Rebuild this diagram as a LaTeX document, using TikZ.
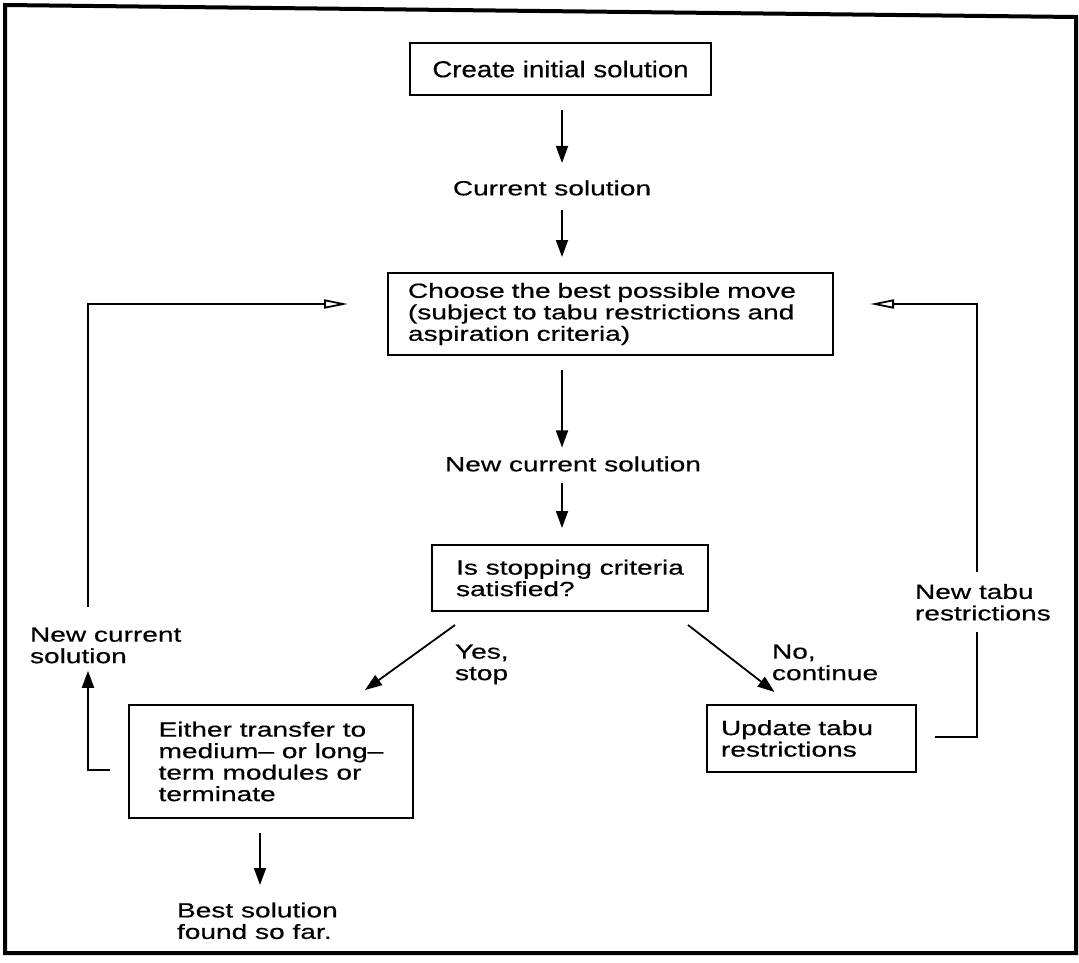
\documentclass[tikz,border=0pt]{standalone}
\usepackage{fontspec}
\usetikzlibrary{arrows.meta,calc}
\newfontfamily\flowfont[FakeStretch=1.37,FakeBold=0.5]{Liberation Sans}
\newfontfamily\headfont[FakeStretch=1.2,FakeBold=0.4]{Liberation Sans}
\begin{document}
\begin{tikzpicture}[x=1pt,y=-1pt,
  every node/.style={inner sep=0pt, outer sep=0pt},
  txt/.style={font=\flowfont\fontsize{20.5}{21.5}\selectfont, align=left},
  stepbox/.style={txt, draw, line width=2.2pt},
  flow/.style={line width=1.8pt, -{Triangle[length=17pt,width=12pt]}},
  loopback/.style={line width=1.8pt, -{Triangle[open,length=24pt,width=9pt]}},
  plain/.style={line width=1.8pt}]
\useasboundingbox (0,0) rectangle (1079,962);

% outer frame
\draw[line width=4pt] (5,5) -- (1076,17) -- (1076,953) -- (5,953) -- cycle;

% process boxes
\node[stepbox, font=\headfont\fontsize{23}{25}\selectfont, align=center,
      minimum width=301pt, minimum height=52pt] (init) at (560.5,69) {Create initial solution};
\node[stepbox, text width=405pt, inner xsep=20pt, minimum height=82pt] (choose) at (610.5,314)
  {Choose the best possible move\\(subject to tabu restrictions and\\aspiration criteria)};
\node[stepbox, minimum width=276pt, minimum height=66pt] (stop) at (570,578)
  {Is stopping criteria\\satisfied?};
\node[stepbox, minimum width=284pt, minimum height=113pt] (either) at (271,761.5)
  {Either transfer to\\medium– or long–\\term modules or\\terminate};
\node[stepbox, text width=181pt, inner xsep=14pt, minimum height=67pt] (update) at (811.5,738.5)
  {Update tabu\\restrictions};

% free labels
\node[txt] (cur1) at (552,188) {Current solution};
\node[txt] (newcur) at (573,464) {New current solution};
\node[txt, anchor=north west] (yes) at (455,644.5) {Yes,\\stop};
\node[txt, anchor=north west] (no) at (772,644.5) {No,\\continue};
\node[txt, anchor=north west] (leftlbl) at (30,627.5) {New current\\solution};
\node[txt, anchor=north west] (rightlbl) at (915,584) {New tabu\\restrictions};
\node[txt, anchor=north west] (best) at (177,902.5) {Best solution\\found so far.};

% helper coordinates for the vertical lines
\coordinate (axis) at (562,0);
\coordinate (lx) at (88,0);
\coordinate (rx) at (977,0);
\coordinate (ly) at (0,304);

% main column
\draw[flow] ($(axis |- init.south)+(0,15)$) -- ($(axis |- cur1.north)+(0,-17.5)$);
\draw[flow] ($(axis |- cur1.south)+(0,14.5)$) -- ($(axis |- choose.north)+(0,-16)$);
\draw[flow] ($(axis |- choose.south)+(0,15)$) -- ($(axis |- newcur.north)+(0,-9)$);
\draw[flow] ($(axis |- newcur.south)+(0,11)$) -- ($(axis |- stop.north)+(0,-17)$);

% branches
\draw[flow] ($(stop.south)+(-115,14)$) -- ($(either.north)+(94,-15)$);
\draw[flow] ($(stop.south)+(118,14)$) -- ($(update.north)+(-37,-13)$);
\draw[flow] ($(either.south)+(-11,15)$) -- ($(either.south |- best.north)+(-11,-17.5)$);

% left feedback loop
\draw[flow] ($(either.west)+(-19,8.5)$) -| ($(lx |- leftlbl.south)+(0,7.5)$);
\draw[loopback] ($(lx |- leftlbl.north)+(0,-20.5)$) |- ($(choose.west |- ly)+(-40,0)$);

% right feedback loop
\draw[plain] ($(update.east)+(19,-1.5)$) -| ($(rx |- rightlbl.south)+(0,11)$);
\draw[loopback] ($(rx |- rightlbl.north)+(0,-12)$) |- ($(choose.east |- ly)+(37,0)$);
\end{tikzpicture}
\end{document}
